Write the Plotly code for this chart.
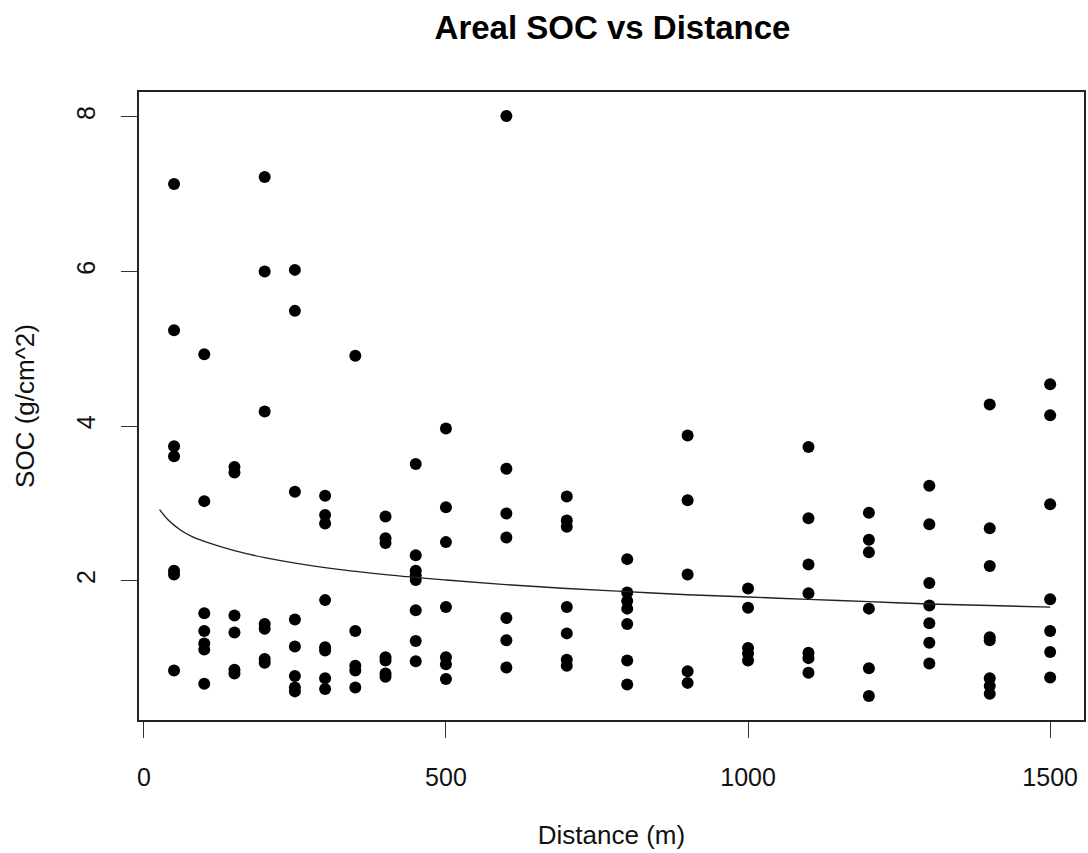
import plotly.graph_objects as go

# Distance groups (m) and SOC values (g/cm^2)
dist_50 = [7.13, 5.24, 3.74, 3.61, 2.13, 2.08, 0.84]
dist_100 = [4.93, 3.03, 1.58, 1.35, 1.19, 1.11, 0.67]
dist_150 = [3.47, 3.40, 1.55, 1.33, 0.85, 0.80]
dist_200 = [7.22, 6.00, 4.19, 1.44, 1.38, 0.99, 0.94]
dist_250 = [6.02, 5.49, 3.15, 1.50, 1.15, 0.77, 0.62, 0.57]
dist_300 = [3.10, 2.85, 2.74, 1.75, 1.14, 1.10, 0.74, 0.60]
dist_350 = [4.91, 1.35, 0.90, 0.84, 0.62]
dist_400 = [2.83, 2.55, 2.49, 1.01, 0.97, 0.80, 0.76]
dist_450 = [3.51, 2.33, 2.13, 2.07, 2.01, 1.62, 1.22, 0.96]
dist_500 = [3.97, 2.95, 2.50, 1.66, 1.01, 0.92, 0.73]
dist_600 = [8.01, 3.45, 2.87, 2.56, 1.52, 1.23, 0.88]
dist_700 = [3.09, 2.78, 2.70, 1.66, 1.32, 0.98, 0.90]
dist_800 = [2.28, 1.85, 1.74, 1.64, 1.44, 0.97, 0.66]
dist_900 = [3.88, 3.04, 2.08, 0.83, 0.68]
dist_1000 = [1.90, 1.65, 1.13, 1.06, 0.97]
dist_1100 = [3.73, 2.81, 2.21, 1.84, 1.07, 1.00, 0.81]
dist_1200 = [2.88, 2.53, 2.37, 1.64, 0.87, 0.51]
dist_1300 = [3.23, 2.73, 1.97, 1.68, 1.45, 1.20, 0.93]
dist_1400 = [4.28, 2.68, 2.19, 1.27, 1.23, 0.74, 0.64, 0.54]
dist_1500 = [4.54, 4.14, 2.99, 1.76, 1.35, 1.08, 0.75]

groups = {
    50: dist_50, 100: dist_100, 150: dist_150, 200: dist_200, 250: dist_250,
    300: dist_300, 350: dist_350, 400: dist_400, 450: dist_450, 500: dist_500,
    600: dist_600, 700: dist_700, 800: dist_800, 900: dist_900, 1000: dist_1000,
    1100: dist_1100, 1200: dist_1200, 1300: dist_1300, 1400: dist_1400, 1500: dist_1500,
}

# Fitted trend line
fit_x = [26, 40, 60, 80, 100, 150, 200, 300, 400, 500, 600, 700, 800, 900,
         1000, 1100, 1200, 1300, 1400, 1500]
fit_y = [2.92, 2.79, 2.66, 2.57, 2.51, 2.39, 2.30, 2.17, 2.08, 2.01, 1.95,
         1.90, 1.86, 1.82, 1.79, 1.76, 1.73, 1.70, 1.68, 1.66]

x_ticks = [0, 500, 1000, 1500]
y_ticks = [2, 4, 6, 8]

xs, ys = [], []
for d, vals in groups.items():
    xs += [d] * len(vals)
    ys += vals

FONT = "Liberation Sans, Arial, sans-serif"

fig = go.Figure()
fig.add_trace(go.Scatter(
    x=xs, y=ys, mode="markers",
    marker=dict(color="black", size=12, line=dict(width=0)),
    showlegend=False,
))
fig.add_trace(go.Scatter(
    x=fit_x, y=fit_y, mode="lines",
    line=dict(color="#222222", width=1.4, shape="spline"),
    showlegend=False,
))

axis_common = dict(
    showgrid=False, zeroline=False, showline=True, linecolor="#222222",
    linewidth=1.5, mirror=True, ticks="outside", ticklen=16, tickwidth=1.3,
    tickcolor="#333333", tickfont=dict(family=FONT, size=25, color="#111111"),
)

fig.update_layout(
    width=1088, height=853,
    margin=dict(l=139, r=2, t=92, b=133),
    paper_bgcolor="white", plot_bgcolor="white",
    title=dict(
        text="<b>Areal SOC vs Distance</b>",
        font=dict(family=FONT, size=33, color="black"),
        x=(139 + 1086) / 2 / 1088, xanchor="center",
        y=1 - 27 / 853, yanchor="middle",
    ),
    xaxis=dict(
        range=[-8, 1556], tickvals=x_ticks, ticktext=[str(v) for v in x_ticks],
        title=dict(text="Distance (m)", font=dict(family=FONT, size=26, color="#111111"),
                   standoff=36),
        ticklabelstandoff=18,
        **axis_common,
    ),
    yaxis=dict(
        range=[0.2, 8.32], tickvals=y_ticks, ticktext=[str(v) for v in y_ticks],
        tickangle=-90,
        title=dict(text="SOC (g/cm^2)", font=dict(family=FONT, size=26, color="#111111"),
                   standoff=30),
        ticklabelstandoff=16,
        **axis_common,
    ),
)

fig.write_html("out.html")
